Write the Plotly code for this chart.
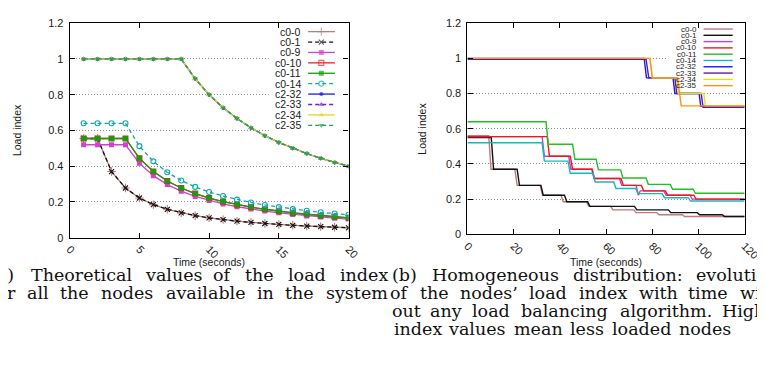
import plotly.graph_objects as go

W, H = 765, 379

# ---------------- data: left panel (theoretical values) ----------------
t_left = [1, 2, 3, 4, 5, 6, 7, 8, 9, 10, 11, 12, 13, 14, 15, 16, 17, 18, 19, 20]
left_c0_0 = [0.555, 0.555, 0.37, 0.278, 0.222, 0.185, 0.159, 0.139, 0.123, 0.111,
             0.101, 0.0925, 0.0854, 0.0793, 0.074, 0.0694, 0.0653, 0.0617, 0.0584, 0.0555]
left_c0_1 = [0.555, 0.555, 0.37, 0.278, 0.222, 0.185, 0.159, 0.139, 0.123, 0.111,
             0.101, 0.0925, 0.0854, 0.0793, 0.074, 0.0694, 0.0653, 0.0617, 0.0584, 0.0555]
left_c0_9 = [0.52, 0.52, 0.52, 0.52, 0.416, 0.347, 0.297, 0.26, 0.231, 0.208,
             0.189, 0.173, 0.16, 0.149, 0.139, 0.13, 0.122, 0.116, 0.109, 0.104]
left_c0_10 = [0.555, 0.555, 0.555, 0.555, 0.444, 0.37, 0.317, 0.278, 0.247, 0.222,
              0.202, 0.185, 0.171, 0.159, 0.148, 0.139, 0.131, 0.123, 0.117, 0.111]
left_c0_11 = [0.555, 0.555, 0.555, 0.555, 0.444, 0.37, 0.317, 0.278, 0.247, 0.222,
              0.202, 0.185, 0.171, 0.159, 0.148, 0.139, 0.131, 0.123, 0.117, 0.111]
left_c0_14 = [0.64, 0.64, 0.64, 0.64, 0.512, 0.427, 0.366, 0.32, 0.284, 0.256,
              0.233, 0.213, 0.197, 0.183, 0.171, 0.16, 0.151, 0.142, 0.135, 0.128]
left_c2_32 = [1, 1, 1, 1, 1, 1, 1, 1, 0.889, 0.8, 0.727, 0.667, 0.615, 0.571, 0.533,
              0.5, 0.471, 0.444, 0.421, 0.4]
left_c2_33 = [1, 1, 1, 1, 1, 1, 1, 1, 0.889, 0.8, 0.727, 0.667, 0.615, 0.571, 0.533,
              0.5, 0.471, 0.444, 0.421, 0.4]
left_c2_34 = [1, 1, 1, 1, 1, 1, 1, 1, 0.889, 0.8, 0.727, 0.667, 0.615, 0.571, 0.533,
              0.5, 0.471, 0.444, 0.421, 0.4]
left_c2_35 = [1, 1, 1, 1, 1, 1, 1, 1, 0.889, 0.8, 0.727, 0.667, 0.615, 0.571, 0.533,
              0.5, 0.471, 0.444, 0.421, 0.4]

# ---------------- data: right panel (measured, step-like) ----------------
r_c0_0_t = [0, 9.2, 10.2, 20.5, 21.5, 31.5, 32.5, 40.5, 41.5, 51.5, 52.5, 62, 63, 72, 73, 82, 83, 93, 94, 120]
r_c0_0_v = [0.56, 0.56, 0.37, 0.37, 0.278, 0.278, 0.222, 0.222, 0.185, 0.185, 0.159, 0.159,
            0.139, 0.139, 0.123, 0.123, 0.111, 0.111, 0.101, 0.101]
r_c0_1_t = [0, 10.3, 11.3, 21.5, 22.5, 31.8, 32.8, 42, 43, 52, 53, 72.3, 73.3, 87, 88, 99.5, 100.5, 110.3, 111.3, 120]
r_c0_1_v = [0.55, 0.55, 0.37, 0.37, 0.278, 0.278, 0.222, 0.222, 0.185, 0.185, 0.159, 0.159,
            0.139, 0.139, 0.123, 0.123, 0.111, 0.111, 0.101, 0.101]
r_c0_9_t = [0, 32.3, 33.3, 43.8, 44.8, 53.8, 54.8, 65.8, 66.8, 73, 74, 74.8, 85, 86, 96.3, 97.3, 120]
r_c0_9_v = [0.555, 0.555, 0.444, 0.444, 0.37, 0.37, 0.317, 0.317, 0.278, 0.278, 0.222, 0.247,
            0.247, 0.222, 0.222, 0.2, 0.2]
r_c0_10_t = [0, 34.5, 35.5, 44.5, 45.5, 54, 55, 66.5, 67.5, 75.3, 76.3, 85.7, 86.7, 98, 99, 120]
r_c0_10_v = [0.555, 0.555, 0.444, 0.444, 0.37, 0.37, 0.317, 0.317, 0.278, 0.278, 0.247, 0.247,
             0.222, 0.222, 0.2, 0.2]
r_c0_11_t = [0, 34, 35, 45.5, 46.5, 55.7, 56.7, 66.3, 67.3, 77.3, 78.3, 87.8, 88.8, 97.7, 98.7, 120]
r_c0_11_v = [0.64, 0.64, 0.512, 0.512, 0.427, 0.427, 0.366, 0.366, 0.32, 0.32, 0.284, 0.284,
             0.256, 0.256, 0.233, 0.233]
r_c0_14_t = [0, 32.3, 33.3, 43.5, 44.5, 54.3, 55.3, 63.3, 64.3, 72.8, 73.8, 84.3, 85.3, 95.6, 96.6, 120]
r_c0_14_v = [0.52, 0.52, 0.416, 0.416, 0.347, 0.347, 0.297, 0.297, 0.26, 0.26, 0.231, 0.231,
             0.208, 0.208, 0.189, 0.189]
r_c2_32_t = [0, 76.5, 77.5, 89, 89.8, 100.3, 101, 120]
r_c2_32_v = [1, 1, 0.889, 0.889, 0.8, 0.8, 0.727, 0.727]
r_c2_33_t = [0, 77.3, 78.5, 89.8, 90.6, 101.2, 102, 120]
r_c2_33_v = [0.995, 0.995, 0.889, 0.889, 0.8, 0.8, 0.722, 0.722]
r_c2_34_t = [0, 79, 80, 90.5, 91.3, 102.3, 103, 120]
r_c2_34_v = [1, 1, 0.889, 0.889, 0.8, 0.8, 0.73, 0.73]
r_c2_35_t = [0, 79, 80, 91, 92.5, 120]
r_c2_35_v = [1, 1, 0.889, 0.889, 0.73, 0.73]

series_names = ["c0-0", "c0-1", "c0-9", "c0-10", "c0-11", "c0-14", "c2-32", "c2-33", "c2-34", "c2-35"]
y_ticks = [0, 0.2, 0.4, 0.6, 0.8, 1.0, 1.2]
y_ticktext = ["0", "0.2", "0.4", "0.6", "0.8", "1", "1.2"]
x_ticks_left = [0, 5, 10, 15, 20]
x_ticks_right = [0, 20, 40, 60, 80, 100, 120]

caption_a = ["(a) Theoretical values of the load index",
             "for all the nodes available in the system"]
caption_b = ["(b) Homogeneous distribution: evolution",
             "of the nodes\u2019 load index with time with-",
             "out any load balancing algorithm. Higher",
             "index values mean less loaded nodes"]

# ---------------- styles ----------------
left_styles = {
    "c0-0": dict(color="#c07a7a", dash="solid", symbol="cross-thin", size=6),
    "c0-1": dict(color="#111111", dash="4px,3px", symbol="x-thin", size=5),
    "c0-9": dict(color="#cc44cc", dash="solid", symbol="square", size=5),
    "c0-10": dict(color="#ee2020", dash="solid", symbol="square-open", size=5),
    "c0-11": dict(color="#10a010", dash="solid", symbol="square", size=5),
    "c0-14": dict(color="#10a8b0", dash="4px,3px", symbol="circle-open", size=5),
    "c2-32": dict(color="#1a1aee", dash="solid", symbol="circle", size=4),
    "c2-33": dict(color="#7a1ec8", dash="4px,3px", symbol="triangle-up", size=5),
    "c2-34": dict(color="#e0d820", dash="solid", symbol="triangle-up", size=5),
    "c2-35": dict(color="#20a050", dash="4px,3px", symbol="triangle-down", size=5),
}
right_colors = {
    "c0-0": "#c07a7a", "c0-1": "#111111", "c0-9": "#c040c8", "c0-10": "#f01818",
    "c0-11": "#20c020", "c0-14": "#18b8b8", "c2-32": "#1818f0", "c2-33": "#6018a8",
    "c2-34": "#e0e020", "c2-35": "#ff9418",
}

left_data = [left_c0_0, left_c0_1, left_c0_9, left_c0_10, left_c0_11, left_c0_14,
             left_c2_32, left_c2_33, left_c2_34, left_c2_35]
right_data = [(r_c0_0_t, r_c0_0_v), (r_c0_1_t, r_c0_1_v), (r_c0_9_t, r_c0_9_v),
              (r_c0_10_t, r_c0_10_v), (r_c0_11_t, r_c0_11_v), (r_c0_14_t, r_c0_14_v),
              (r_c2_32_t, r_c2_32_v), (r_c2_33_t, r_c2_33_v), (r_c2_34_t, r_c2_34_v),
              (r_c2_35_t, r_c2_35_v)]

# ---------------- geometry (pixels) ----------------
L = dict(x0=58.3, x1=345.0, y0=9.5, y1=231.0)
R = dict(x0=467.3, x1=752.3, y0=9.5, y1=227.5)

def px(x):
    return x / W

def py(y):
    return 1 - y / H

AX_FAMILY = "Liberation Sans, Arial, sans-serif"
AX_FONT = dict(family=AX_FAMILY, size=11, color="#1a1a1a")
CAP_SIZE = 17.5
CAP_FONT = dict(family="DejaVu Serif, serif", size=CAP_SIZE, color="#111111")

# approximate relative advance widths of the caption font, used to justify caption lines
SERIF_EM = {"(": 0.390, ")": 0.390, "a": 0.596, "b": 0.640, "c": 0.559, "d": 0.640,
            "e": 0.592, "f": 0.370, "g": 0.640, "h": 0.644, "i": 0.320, "l": 0.320,
            "m": 0.948, "n": 0.644, "o": 0.602, "r": 0.478, "s": 0.513, "t": 0.402,
            "u": 0.644, "v": 0.565, "w": 0.856, "x": 0.564, "y": 0.565, "T": 0.667,
            "H": 0.872, ":": 0.337, ".": 0.318, "\u2019": 0.318, "-": 0.338, " ": 0.318}
WIDTH_SCALE = 1.07

def tw(s):
    return sum(SERIF_EM.get(c, 0.6) for c in s) * CAP_SIZE * WIDTH_SCALE

fig = go.Figure()

def marker_dict(st, size):
    sym = st["symbol"]
    if sym.endswith("-thin") or sym.endswith("-open"):
        return dict(symbol=sym, size=size, color=st["color"], line=dict(color=st["color"], width=1.1))
    return dict(symbol=sym, size=size, color=st["color"], line=dict(width=0))

# left panel curves
for name, vals in zip(series_names, left_data):
    st = left_styles[name]
    fig.add_trace(go.Scatter(x=t_left, y=vals, mode="lines+markers", name=name,
                             line=dict(color=st["color"], width=1.3, dash=st["dash"]),
                             marker=marker_dict(st, st["size"]),
                             xaxis="x", yaxis="y", showlegend=False))

# right panel curves
for name, (tt, vv) in zip(series_names, right_data):
    fig.add_trace(go.Scatter(x=tt, y=vv, mode="lines", name=name,
                             line=dict(color=right_colors[name], width=1.4),
                             xaxis="x2", yaxis="y2", showlegend=False))

# ---------------- manual legends (pixel overlay axes) ----------------
annotations = []
leg_l_y0, leg_l_dy = 18.2, 10.75
for i, name in enumerate(series_names):
    st = left_styles[name]
    yy = leg_l_y0 + i * leg_l_dy
    md = marker_dict(st, st["size"])
    md["size"] = [0, st["size"], 0]
    fig.add_trace(go.Scatter(x=[303.5, 317.0, 331.0], y=[yy, yy, yy], mode="lines+markers",
                             line=dict(color=st["color"], width=1.3, dash=st["dash"]),
                             marker=md, xaxis="x3", yaxis="y3", showlegend=False))
    annotations.append(dict(x=298.5, y=yy, xref="x3", yref="y3", text=name, showarrow=False,
                            xanchor="right", yanchor="middle",
                            font=dict(family=AX_FAMILY, size=10.5, color="#1a1a1a")))

leg_r_y0, leg_r_dy = 15.5, 6.5
for i, name in enumerate(series_names):
    yy = leg_r_y0 + i * leg_r_dy
    fig.add_trace(go.Scatter(x=[710.0, 740.0], y=[yy, yy], mode="lines",
                             line=dict(color=right_colors[name], width=1.4),
                             xaxis="x3", yaxis="y3", showlegend=False))
    annotations.append(dict(x=705.5, y=yy, xref="x3", yref="y3", text=name, showarrow=False,
                            xanchor="right", yanchor="middle",
                            font=dict(family=AX_FAMILY, size=8, color="#1a1a1a")))

# white key boxes hiding the grid
def to_data(panel, xr, yr, xpix, ypix):
    x = xr * (xpix - panel["x0"]) / (panel["x1"] - panel["x0"])
    y = yr * (panel["y1"] - ypix) / (panel["y1"] - panel["y0"])
    return x, y

shapes = []
bx0, by0 = to_data(L, 20, 1.2, 263, 11)
bx1, by1 = to_data(L, 20, 1.2, 339, 121)
shapes.append(dict(type="rect", xref="x", yref="y", x0=bx0, x1=bx1, y0=by1, y1=by0,
                   fillcolor="white", line=dict(width=0), layer="between"))
bx0, by0 = to_data(R, 120, 1.2, 672, 11)
bx1, by1 = to_data(R, 120, 1.2, 746, 78)
shapes.append(dict(type="rect", xref="x2", yref="y2", x0=bx0, x1=bx1, y0=by1, y1=by0,
                   fillcolor="white", line=dict(width=0), layer="between"))

# axis titles
for cx in [(L["x0"] + L["x1"]) / 2, (R["x0"] + R["x1"]) / 2]:
    annotations.append(dict(x=px(cx), y=py(256), xref="paper", yref="paper", text="Time (seconds)",
                            showarrow=False, xanchor="center", yanchor="middle",
                            font=dict(family=AX_FAMILY, size=10.5, color="#1a1a1a")))
for cx, cy in [(4, 120), (421, 118)]:
    annotations.append(dict(x=px(cx), y=py(cy), xref="paper", yref="paper", text="Load index",
                            showarrow=False, xanchor="center", yanchor="middle", textangle=-90,
                            font=dict(family=AX_FAMILY, size=10.5, color="#1a1a1a")))

# captions: justified lines, each word placed between the column's left and right margins
cap_y0, cap_dy = 270, 18.6
col_right_b = 389 + 386 + tw("(a")   # right column has the same width as the left one
cap_specs = [
    # (text, row, left x of first word, right x of last word or None for natural spacing)
    (caption_a[0], 0, -tw("(a") - 6, 386),
    (caption_a[1], 1, -tw("fo") - 6, 386),
    (caption_b[0], 0, 389, col_right_b - 7),
    (caption_b[1], 1, 389, col_right_b),
    (caption_b[2], 2, 389, col_right_b),
    (caption_b[3], 3, 389, None),
]
for text, row, xl, xr in cap_specs:
    words = text.split(" ")
    widths = [tw(w) for w in words]
    if xr is None:
        gap = tw(" ")
    else:
        gap = (xr - xl - sum(widths)) / (len(words) - 1)
    x = xl
    for w, wd in zip(words, widths):
        annotations.append(dict(x=px(x + wd), y=py(cap_y0 + row * cap_dy), xref="paper", yref="paper",
                                text=w, showarrow=False, xanchor="right", yanchor="middle",
                                borderpad=0, borderwidth=0, font=CAP_FONT))
        x += wd + gap

common_axis = dict(showline=True, linecolor="black", linewidth=1.1, mirror="ticks",
                   ticks="inside", ticklen=5, tickcolor="black", tickwidth=1,
                   zeroline=False, tickfont=AX_FONT, fixedrange=True)
grid = dict(showgrid=True, gridcolor="#8c8c8c", griddash="1px,2px", gridwidth=1)

fig.update_layout(
    width=W, height=H, margin=dict(l=0, r=0, t=0, b=0),
    paper_bgcolor="white", plot_bgcolor="rgba(0,0,0,0)", showlegend=False,
    xaxis=dict(common_axis, domain=[px(L["x0"]), px(L["x1"])], range=[0, 20], anchor="y",
               tickvals=x_ticks_left, tickangle=45, showgrid=False),
    yaxis=dict(common_axis, **grid, domain=[py(L["y1"]), py(L["y0"])], range=[0, 1.2], anchor="x",
               tickvals=y_ticks, ticktext=y_ticktext, ticklabelstandoff=3),
    xaxis2=dict(common_axis, domain=[px(R["x0"]), px(R["x1"])], range=[0, 120], anchor="y2",
                tickvals=x_ticks_right, tickangle=45, showgrid=False),
    yaxis2=dict(common_axis, **grid, domain=[py(R["y1"]), py(R["y0"])], range=[0, 1.2], anchor="x2",
                tickvals=y_ticks, ticktext=y_ticktext, ticklabelstandoff=3),
    xaxis3=dict(domain=[0, 1], range=[0, W], visible=False, anchor="y3", fixedrange=True),
    yaxis3=dict(domain=[0, 1], range=[H, 0], visible=False, anchor="x3", fixedrange=True),
    annotations=annotations, shapes=shapes,
)

fig.write_html("out.html")
